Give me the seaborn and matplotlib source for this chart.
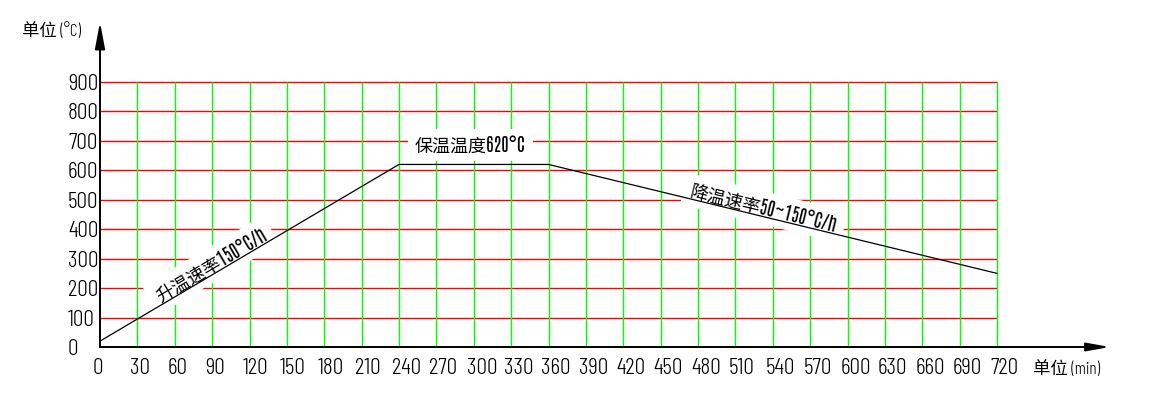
import numpy as np
import matplotlib
matplotlib.use("Agg")
import matplotlib.pyplot as plt
import seaborn as sns

# ---- data ----
time_min = [0, 240, 360, 720]
temp_c = [20, 620, 620, 250]
x_ticks = list(range(0, 721, 30))
y_ticks = list(range(0, 901, 100))
y_unit = "单位 (°C)"
x_unit = "单位 (min)"
label_rise = "升温速率150°C/h"
label_hold = "保温温度620°C"
label_fall = "降温速率50~150°C/h"

sns.set_theme(style="white")
FAM = ["Barlow Condensed", "Noto Sans CJK SC", "DejaVu Sans"]
FAM_MIX = ["Antonio", "Barlow Condensed", "Noto Sans CJK SC", "DejaVu Sans"]
plt.rcParams["font.family"] = FAM

W, H = 1154, 411
fig = plt.figure(figsize=(W / 100, H / 100), dpi=100)
ax = fig.add_axes([0, 0, 1, 1])
ax.set_axis_off()

# pixel mapping: x=0 at px 100, 720 at px 997; y=0 at px 347, 900 at px 82
sx = 897 / 720.0
sy = 265 / 900.0
ax.set_xlim(-100 / sx, (W - 100) / sx)
ax.set_ylim(-(H - 347) / sy, 347 / sy)

RED = "#FF0000"
GREEN = "#00FF00"
xmax, ymax = x_ticks[-1], y_ticks[-1]

# grid
ax.hlines(y_ticks[1:], 0, xmax, colors=RED, lw=1.0, zorder=1)
ax.vlines(x_ticks[1:], 0, ymax, colors=GREEN, lw=1.0, zorder=1)

# axes with arrows
ax.annotate("", xy=(0, 347 / sy - 22 / sy), xytext=(0, 0),
            arrowprops=dict(arrowstyle="-|>,head_length=1.6,head_width=0.3",
                            color="black", lw=1.4, shrinkA=0, shrinkB=0,
                            mutation_scale=10), zorder=5)
ax.annotate("", xy=((1110 - 100) / sx, 0), xytext=(0, 0),
            arrowprops=dict(arrowstyle="-|>,head_length=1.4,head_width=0.25",
                            color="black", lw=1.4, shrinkA=0, shrinkB=0,
                            mutation_scale=10), zorder=5)

# data line
sns.lineplot(x=time_min, y=temp_c, ax=ax, color="black", lw=0.9,
             zorder=4, legend=False)

# tick labels
TFS = 17
TW = 300
for v in y_ticks:
    ax.text(-32 / sx, v, str(v), ha="left", va="center_baseline",
            fontsize=TFS, fontweight=TW, color="black", family=FAM)
for v in x_ticks:
    ax.text(v - 7 / sx, -19 / sy, str(v), ha="left", va="center_baseline",
            fontsize=TFS, fontweight=TW, color="black", family=FAM)

ax.text((1033 - 100) / sx, -21 / sy, x_unit, ha="left", va="center_baseline",
        fontsize=12.5, fontweight=TW, color="black", family=FAM)
ax.text((22 - 100) / sx, (347 - 30) / sy, y_unit, ha="left", va="center_baseline",
        fontsize=12.5, fontweight=TW, color="black", family=FAM)

# annotations with white boxes
def seg_angle(i):
    x0, y0, x1, y1 = time_min[i], temp_c[i], time_min[i + 1], temp_c[i + 1]
    ang = np.degrees(np.arctan2(y1 - y0, x1 - x0))
    return ax.transData.transform_angles(np.array([ang]),
                                         np.array([[x0, y0]]))[0]

MFS = 13
box = dict(boxstyle="square,pad=0.4", fc="white", ec="none")
ax.text(89, 278, label_rise, rotation=seg_angle(0), rotation_mode="anchor",
        ha="center", va="center", fontsize=MFS, color="black",
        family=FAM_MIX, bbox=box, zorder=3)
ax.text((415 - 100) / sx, (347 - 145) / sy, label_hold, ha="left",
        va="center", fontsize=MFS, color="black", family=FAM_MIX,
        bbox=box, zorder=3)
ax.text(533, 472, label_fall, rotation=seg_angle(2), rotation_mode="anchor",
        ha="center", va="center", fontsize=MFS, color="black",
        family=FAM_MIX, bbox=box, zorder=3)

fig.savefig("out.png", dpi=100, facecolor="white")
